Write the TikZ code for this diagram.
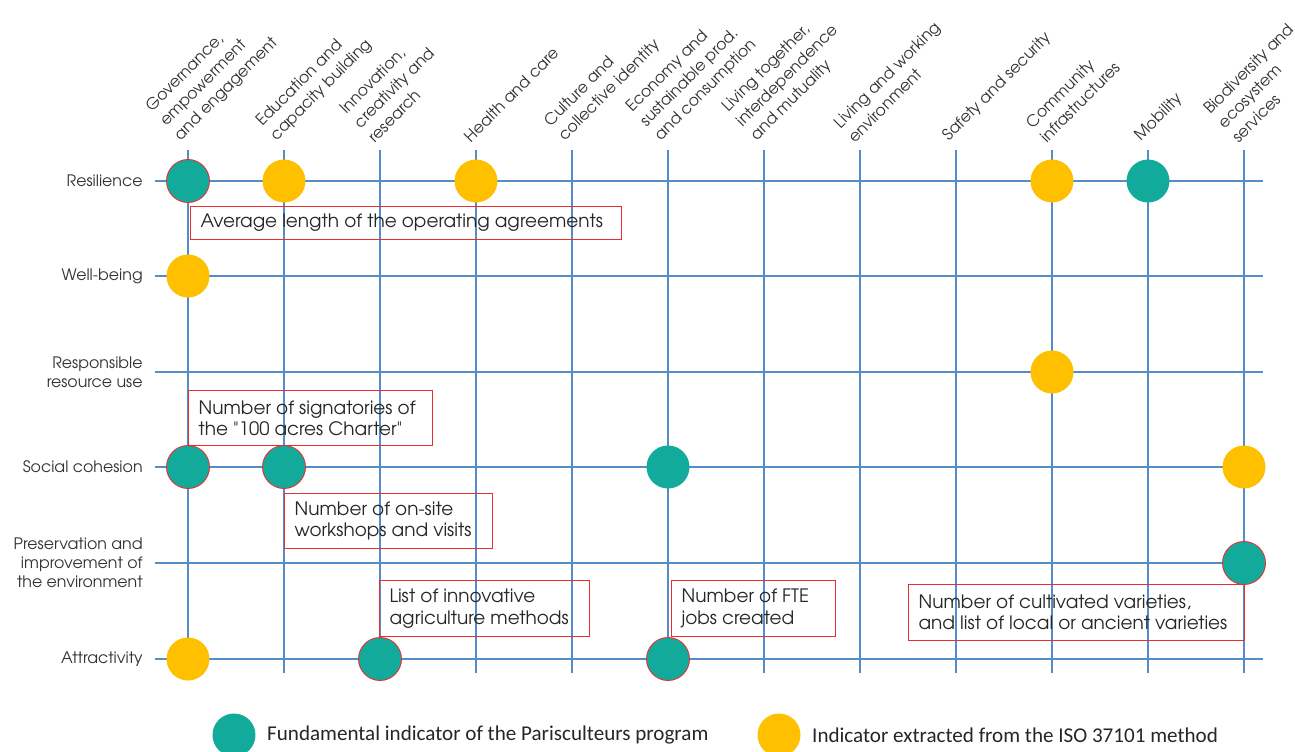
\documentclass[tikz,border=0pt]{standalone}
\usepackage{fontspec}
\setmainfont{Carlito}
\newfontfamily\gothic{texgyreadventor}[Extension=.otf,UprightFont=*-regular,BoldFont=*-bold]
\usepackage{tikz}
\usepackage{xcolor}
\usetikzlibrary{positioning}
\definecolor{gridblue}{RGB}{84,141,199}
\definecolor{indteal}{RGB}{18,171,155}
\definecolor{indyellow}{RGB}{255,192,0}
\definecolor{boxred}{RGB}{236,45,45}
\tikzstyle{gridline} = [gridblue, line width=0.7pt]
\tikzstyle{fund} = [circle, fill=indteal, minimum size=0.86cm, inner sep=0pt]
\tikzstyle{fundmark} = [fund, draw=boxred, line width=0.5pt]
\tikzstyle{iso} = [circle, fill=indyellow, minimum size=0.86cm, inner sep=0pt]
\tikzstyle{theme} = [font=\gothic\fontsize{9}{11.5}\selectfont, rotate=45, anchor=south west, align=left, inner sep=0pt, text=black!80]
\tikzstyle{goal} = [font=\gothic\fontsize{9}{10.8}\selectfont, anchor=east, align=right, inner sep=0pt, text=black!80]
\tikzstyle{note} = [draw=boxred, line width=0.6pt, font=\gothic\fontsize{10.5}{12.2}\selectfont, align=flush left, anchor=north west, inner xsep=0.2cm, inner ysep=0pt, text=black!85]
\tikzstyle{legend} = [font=\fontsize{12}{14}\selectfont, inner sep=0pt, text=black!85]

\begin{document}
\begin{tikzpicture}[x=0.02cm, y=-0.02cm]
\useasboundingbox (0,0) rectangle (1295,751);

\foreach \i/\x in {1/188,2/284,3/380,4/476,5/572,6/668,7/764,8/860,9/956,10/1052,11/1148,12/1244} {
  \coordinate (top\i) at (\x,150);
  \coordinate (bot\i) at (\x,673);
  \draw [gridline] (top\i) -- (bot\i);
}
\foreach \j/\y in {1/181,2/276,3/372,4/467,5/563,6/659} {
  \coordinate (left\j) at (155,\y);
  \coordinate (right\j) at (1263,\y);
  \draw [gridline] (left\j) -- (right\j);
}

\node (governance) [theme] at (183,144) {Governance,\\empowerment\\and engagement};
\node (education) [theme] at (279,144) {Education and\\capacity building};
\node (innovation) [theme] at (375,144) {Innovation,\\creativity and\\research};
\node (health) [theme] at (471,144) {Health and care};
\node (culture) [theme] at (567,144) {Culture and\\collective identity};
\node (economy) [theme] at (663,144) {Economy and\\sustainable prod.\\and consumption};
\node (together) [theme] at (759,144) {Living together,\\interdependence\\and mutuality};
\node (working) [theme] at (855,144) {Living and working\\environment};
\node (safety) [theme] at (951,144) {Safety and security};
\node (community) [theme] at (1047,144) {Community\\infrastructures};
\node (mobility) [theme] at (1143,144) {Mobility};
\node (biodiversity) [theme] at (1239,144) {Biodiversity and\\ecosystem\\services};

\node (resilience) [goal] at (143,181) {Resilience};
\node (wellbeing) [goal] at (143,276) {Well-being};
\node (resource) [goal] at (143,372) {Responsible\\resource use};
\node (cohesion) [goal] at (143,467) {Social cohesion};
\node (preservation) [goal] at (143,563) {Preservation and\\improvement of\\the environment};
\node (attractivity) [goal] at (143,659) {Attractivity};

\node (res-gov) [fundmark] at (188,181) {};
\node (res-edu) [iso] at (284,181) {};
\node (res-health) [iso] at (476,181) {};
\node (res-comm) [iso] at (1052,181) {};
\node (res-mob) [fund] at (1148,181) {};
\node (well-gov) [iso] at (188,276) {};
\node (resp-comm) [iso] at (1052,372) {};
\node (coh-gov) [fundmark] at (188,467) {};
\node (coh-edu) [fundmark] at (284,467) {};
\node (coh-eco) [fund] at (668,467) {};
\node (coh-bio) [iso] at (1244,467) {};
\node (pres-bio) [fundmark] at (1244,563) {};
\node (att-gov) [iso] at (188,659) {};
\node (att-inno) [fundmark] at (380,659) {};
\node (att-eco) [fundmark] at (668,659) {};

\node (agreements) [note, text width=8.22cm, minimum height=0.66cm] at (190,206) {Average length of the operating agreements};
\node (charter) [note, text width=4.48cm, minimum height=1.1cm] at (188,390) {Number of signatories of\\the "100 acres Charter"};
\node (workshops) [note, text width=3.76cm, minimum height=1.1cm] at (284,493) {Number of on-site\\workshops and visits};
\node (methods) [note, text width=3.8cm, minimum height=1.12cm] at (379,580) {List of innovative\\agriculture methods};
\node (jobs) [note, text width=2.88cm, minimum height=1.12cm] at (671,580) {Number of FTE\\jobs created};
\node (varieties) [note, text width=6.32cm, minimum height=1.12cm] at (908,584) {Number of cultivated varieties,\\and list of local or ancient varieties};

\node (leg-fund) [fund] at (234,735) {};
\node (leg-fund-text) [legend, right=0.22cm of leg-fund] {Fundamental indicator of the Parisculteurs program};
\node (leg-iso) [iso] at (779,735) {};
\node (leg-iso-text) [legend, right=0.22cm of leg-iso] {Indicator extracted from the ISO 37101 method};
\end{tikzpicture}
\end{document}
